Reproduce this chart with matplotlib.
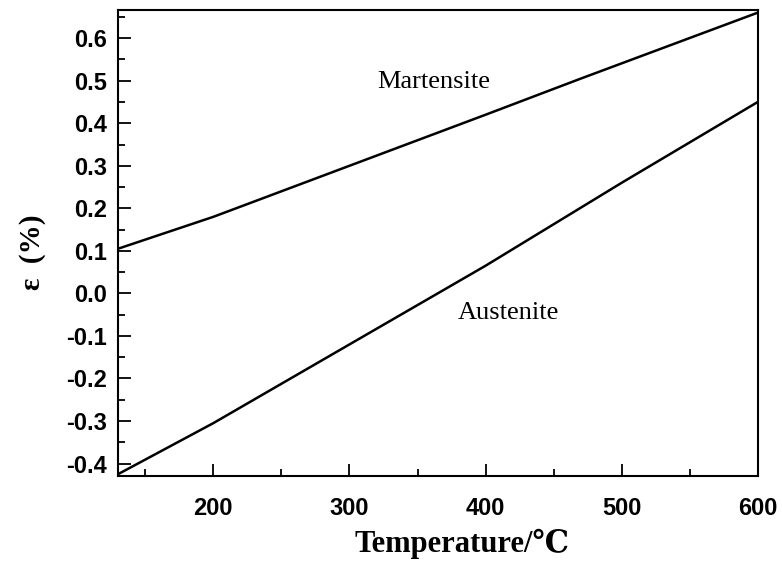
import matplotlib
matplotlib.use("Agg")
import matplotlib.pyplot as plt
from matplotlib.ticker import MultipleLocator

# data
temp_mart = [130, 200, 300, 400, 470, 600]
strain_mart = [0.105, 0.18, 0.30, 0.42, 0.505, 0.66]

temp_aus = [130, 200, 300, 400, 500, 600]
strain_aus = [-0.425, -0.305, -0.12, 0.065, 0.26, 0.45]

xticks = [200, 300, 400, 500, 600]
yticks = [-0.4, -0.3, -0.2, -0.1, 0.0, 0.1, 0.2, 0.3, 0.4, 0.5, 0.6]

serif = ["Liberation Serif", "DejaVu Serif"]

fig = plt.figure(figsize=(7.82, 5.61), dpi=100)
ax = fig.add_axes([0.151, 0.151, 0.818, 0.831])

ax.plot(temp_mart, strain_mart, color="black", lw=1.8)
ax.plot(temp_aus, strain_aus, color="black", lw=1.8)

ax.text(362, 0.496, "Martensite", family=serif, fontsize=19, ha="center", va="center")
ax.text(417, -0.047, "Austenite", family=serif, fontsize=19, ha="center", va="center")

ax.set_xlim(130, 600)
ax.set_ylim(-0.43, 0.666)
ax.set_xticks(xticks)
ax.set_yticks(yticks)
ax.set_yticklabels([f"{v:.1f}" for v in yticks])
ax.xaxis.set_minor_locator(MultipleLocator(50))
ax.yaxis.set_minor_locator(MultipleLocator(0.05))

ax.tick_params(which="both", direction="in", top=False, right=False, width=1.3)
ax.tick_params(which="major", length=9)
ax.tick_params(which="minor", length=5)
for lab in ax.get_xticklabels() + ax.get_yticklabels():
    lab.set_family("Liberation Sans")
    lab.set_fontweight("bold")
    lab.set_fontsize(17)
ax.tick_params(axis="x", pad=15)
ax.tick_params(axis="y", pad=8)

for s in ax.spines.values():
    s.set_linewidth(1.5)

ax.set_xlabel("Temperature/℃", family=serif, fontweight="bold", fontsize=22)
ax.set_ylabel("ε  (%)", family=serif, fontweight="bold", fontsize=21)
ax.xaxis.set_label_coords(0.537, -0.113)
ax.yaxis.set_label_coords(-0.112, 0.48)

fig.savefig("out.png", dpi=100)
